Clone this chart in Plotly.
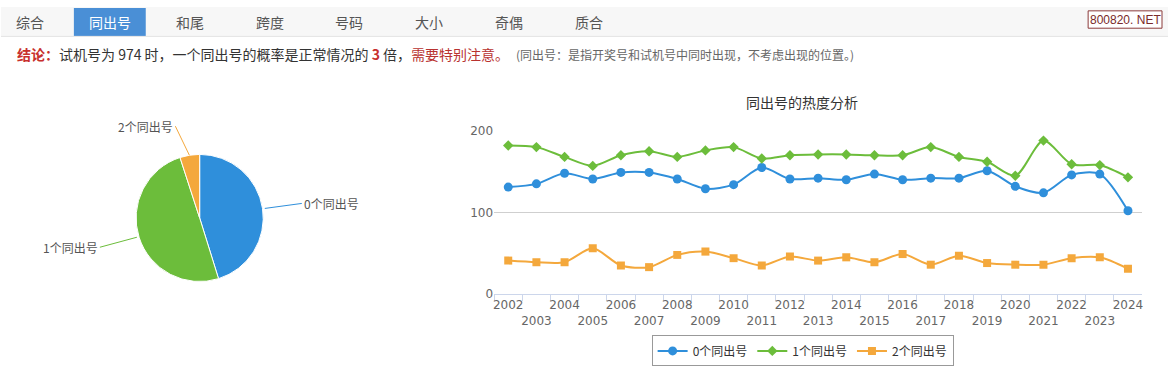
import math
import plotly.graph_objects as go

W, H = 1169, 382

# ---------------- data ----------------
years = [str(y) for y in range(2002, 2025)]
same0 = [131, 135, 148, 141, 149, 149, 141, 129, 134, 155, 141, 142, 140, 147, 140, 142, 142, 151, 132, 124, 146, 147, 102]
same1 = [182, 180, 168, 157, 170, 175, 168, 176, 180, 166, 170, 171, 171, 170, 170, 180, 168, 162, 145, 188, 159, 158, 143]
same2 = [41, 39, 39, 56, 35, 33, 48, 52, 44, 35, 46, 41, 45, 39, 49, 36, 47, 38, 36, 36, 44, 45, 31]
series_names = ["0个同出号", "1个同出号", "2个同出号"]
pie_values = [45.2, 49.8, 5.0]
tabs = ["综合", "同出号", "和尾", "跨度", "号码", "大小", "奇偶", "质合"]
ytick_vals = [0, 100, 200]

colors = ["#2f8fdb", "#6cbd3b", "#f4a83c"]
symbols = ["circle", "diamond", "square"]
msizes = [9, 8, 8]
CJK = "Microsoft YaHei, Noto Sans CJK SC, sans-serif"

fig = go.Figure()

# ---------------- pie ----------------
pcx, pcy, pr = 199, 219, 66
fig.add_trace(go.Pie(
    labels=series_names, values=pie_values, sort=False, direction="clockwise",
    rotation=0, textinfo="none", hoverinfo="label+percent",
    marker=dict(colors=colors, line=dict(color="white", width=1)),
    domain=dict(x=[(pcx - pr) / W, (pcx + pr) / W], y=[1 - (pcy + pr) / H, 1 - (pcy - pr) / H]),
    showlegend=False,
))

# ---------------- lines ----------------
for name, vals, c, s, ms in zip(series_names, [same0, same1, same2], colors, symbols, msizes):
    fig.add_trace(go.Scatter(
        x=years, y=vals, name=name, mode="lines+markers",
        line=dict(color=c, width=2, shape="spline", smoothing=0.8),
        marker=dict(color=c, symbol=s, size=ms),
    ))

ticktext = [y if i % 2 == 0 else "<br>" + y for i, y in enumerate(years)]

fig.update_layout(
    width=W, height=H, autosize=False,
    margin=dict(l=0, r=0, t=0, b=0),
    paper_bgcolor="white", plot_bgcolor="white",
    font=dict(family=CJK, color="#333"),
    xaxis=dict(
        domain=[494 / W, 1143 / W], type="category", range=[-0.5, len(years) - 0.5],
        tickmode="array", tickvals=years, ticktext=ticktext, tickangle=0,
        tickson="boundaries", ticks="outside", ticklen=6, tickcolor="#ccd6eb",
        showline=True, linecolor="#ccd6eb", linewidth=1, showgrid=False,
        tickfont=dict(family="DejaVu Sans", size=12, color="#666"), fixedrange=True,
    ),
    yaxis=dict(
        domain=[1 - 298 / H, 1 - 128.5 / H], range=[0, 200],
        tickmode="array", tickvals=ytick_vals, ticks="",
        showgrid=True, gridcolor="#cfcfcf", zeroline=False, showline=False,
        tickfont=dict(family="DejaVu Sans", size=12, color="#666"), fixedrange=True,
    ),
    legend=dict(
        orientation="h", x=803 / W, y=1 - 357 / H, xanchor="center", yanchor="middle",
        bordercolor="#999", borderwidth=1, bgcolor="white",
        font=dict(family=CJK, size=12, color="#333"), itemwidth=30,
    ),
)

shapes = [
    dict(type="rect", xref="paper", yref="paper", x0=0, x1=1, y0=1 - 30 / H, y1=1,
         fillcolor="#f7f7f7", line=dict(width=0), layer="below"),
    dict(type="line", xref="paper", yref="paper", x0=0, x1=1, y0=1 - 30.5 / H, y1=1 - 30.5 / H,
         line=dict(color="#e3e3e3", width=1)),
    dict(type="rect", xref="paper", yref="paper", x0=73 / W, x1=145 / W, y0=1 - 30 / H, y1=1 - 1 / H,
         fillcolor="#4a8fd6", line=dict(width=0), layer="below"),
    dict(type="rect", xref="paper", yref="paper", x0=1089 / W, x1=1163 / W, y0=1 - 22 / H, y1=1 - 4 / H,
         fillcolor="white", line=dict(color="#8b3a3a", width=1)),
]

ann = []
for i, t in enumerate(tabs):
    ann.append(dict(x=(29 + 80 * i) / W, y=1 - 15.5 / H, xref="paper", yref="paper", text=t,
                    showarrow=False, xanchor="center", yanchor="middle",
                    font=dict(family=CJK, size=14, color="white" if i == 1 else "#555")))
ann.append(dict(x=1126 / W, y=1 - 13 / H, xref="paper", yref="paper", text="800820. NET",
                showarrow=False, xanchor="center", yanchor="middle",
                font=dict(family="Liberation Sans, Arial, sans-serif", size=12, color="#7a2a2a")))
ann.append(dict(
    x=14 / W, y=1 - 49 / H, xref="paper", yref="paper", showarrow=False, xanchor="left", yanchor="middle",
    text=("<span style='color:#c8302c'><b>结论：</b></span>试机号为 974 时，一个同出号的概率是正常情况的 "
          "<span style='color:#c8302c'><b>3</b></span> 倍，<span style='color:#b83230'>需要特别注意。</span>"),
    font=dict(family=CJK, size=14, color="#333")))
ann.append(dict(x=514 / W, y=1 - 49 / H, xref="paper", yref="paper", showarrow=False,
                xanchor="left", yanchor="middle",
                text="(同出号：是指开奖号和试机号中同时出现，不考虑出现的位置。)",
                font=dict(family=CJK, size=12, color="#666")))
ann.append(dict(x=802 / W, y=1 - 99 / H, xref="paper", yref="paper", showarrow=False,
                xanchor="center", yanchor="middle", text="同出号的热度分析",
                font=dict(family=CJK, size=14, color="#333")))

# pie labels with leader lines, tips computed from slice mid-angles
total = sum(pie_values)
cum = 0
offsets = [(37, -5, "left"), (-37, 10, "right"), (-14, -29, "right")]
for v, name, c, (ax, ay, xa) in zip(pie_values, series_names, colors, offsets):
    mid = (cum + v / 2) / total * 2 * math.pi
    cum += v
    ex = pcx + pr * math.sin(mid)
    ey = pcy - pr * math.cos(mid)
    ann.append(dict(x=ex / W, y=1 - ey / H, xref="paper", yref="paper", text=name,
                    showarrow=True, arrowhead=0, arrowwidth=1, arrowcolor=c, ax=ax, ay=ay,
                    xanchor=xa, yanchor="middle", standoff=0,
                    font=dict(family=CJK, size=12, color="#555")))

fig.update_layout(shapes=shapes, annotations=ann)

fig.write_html("out.html", config={"displayModeBar": False},
               post_script="document.body.style.margin='0';document.body.style.overflow='hidden';")
